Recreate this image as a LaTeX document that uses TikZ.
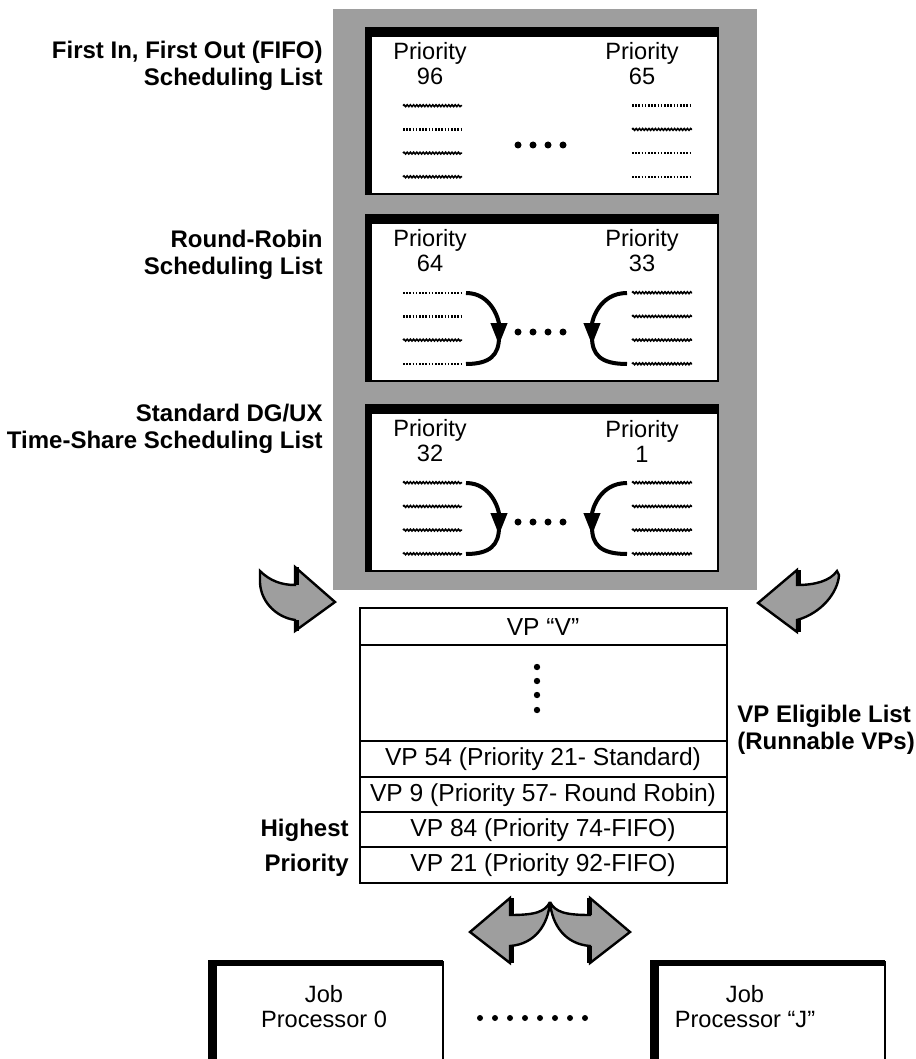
\documentclass[tikz,border=0pt]{standalone}
\usepackage{fontspec}
\setmainfont{Liberation Sans}
\usetikzlibrary{arrows.meta,decorations.pathmorphing}

\begin{document}
\begin{tikzpicture}[x=0.5pt,y=-0.5pt,
	every node/.style={inner sep=0,align=center,font=\fontsize{11.8}{12.5}\selectfont},
	lbl/.style={font=\bfseries\fontsize{12}{13.5}\selectfont},
	halftone/.style={fill=black!38},
	panel/.style={draw,fill=white,line width=1.4pt},
	rowsq/.style={line width=0.8pt,decorate,decoration={snake,amplitude=0.45pt,segment length=1.6pt}},
	rowdt/.style={line width=1.2pt,dash pattern=on 0.8pt off 0.8pt},
	turn/.style={line width=2pt,-{Triangle[length=11pt,width=8pt]}},
	bigarrow/.style={halftone,draw,line width=1.2pt,line join=miter},
	vprow/.style={font=\fontsize{12.3}{14}\selectfont}]
\clip (0,0) rectangle (915,1059);

% the three scheduling lists
\fill[halftone] (333,9) rectangle (757,590);
\foreach \b/\t/\kl/\kr/\hi/\lo in {1/28/{sq,dt,sq,sq}/{dt,sq,dt,dt}/96/65,
	2/215/{dt,dt,sq,dt}/{sq,sq,sq,sq}/64/33,
	3/405/{sq,sq,sq,sq}/{sq,sq,sq,sq}/32/1}{
	\draw[panel] (366,\t) rectangle (718,\t+166);
	\fill (365,\t) rectangle (718,\t+9);
	\fill (365,\t) rectangle (372,\t+166);
	\node (pl\b) at (430,\t+36) {Priority\\\hi};
	\node (pr\b) at (642,\t+36) {Priority\\\lo};
	\foreach \k [count=\i] in \kl
		\draw[row\k] (403,{\t+54+23.7*\i}) -- (462,{\t+54+23.7*\i});
	\foreach \k [count=\i] in \kr
		\draw[row\k] (632,{\t+54+23.7*\i}) -- (692,{\t+54+23.7*\i});
	\foreach \x in {518,533,548,563}
		\fill (\x,\t+117) circle (1.75pt);
}

% round robin turns
\foreach \t in {215,405}{
	\coordinate (lt) at (466,\t+78);
	\coordinate (lb) at (466,\t+149);
	\coordinate (rt) at (627,\t+78);
	\coordinate (rb) at (627,\t+149);
	\draw[turn] (lt) .. controls +(26,0) and +(0,-24) .. (499,\t+130);
	\draw[line width=2pt] (499,\t+122) .. controls +(0,18) and +(24,0) .. (lb);
	\draw[turn] (rt) .. controls +(-28,0) and +(0,-24) .. (592,\t+130);
	\draw[line width=2pt] (592,\t+122) .. controls +(0,18) and +(-26,0) .. (rb);
}

\node[lbl,align=right,anchor=east] (fifo) at (323,66) {First In, First Out (FIFO)\\Scheduling List};
\node[lbl,align=right,anchor=east] (rr) at (323,255) {Round-Robin\\Scheduling List};
\node[lbl,align=right,anchor=east] (ts) at (323,429) {Standard DG/UX\\Time-Share Scheduling List};

% feeding arrows
\filldraw[bigarrow] (260,571) .. controls (270,581) and (282,585) .. (295,585) -- (295,567)
	-- (335,602) -- (295,631) -- (295,620) .. controls (275,617) and (259,600) .. (260,579) -- cycle;
\draw[line width=2.5pt] (296,567) -- (296,585) (296,620) -- (296,631);
\filldraw[bigarrow] (837,571) .. controls (830,581) and (815,585) .. (797,585) -- (797,570)
	-- (758,603) -- (797,632) -- (797,620) .. controls (822,613) and (838,592) .. (839,575) -- cycle;
\draw[line width=2.5pt] (798,570) -- (798,585) (798,620) -- (798,632);

% eligible list
\draw[line width=1.2pt] (360,608) rectangle (727,883);
\foreach \y in {645,741,777,812,847}
	\draw[line width=1.2pt] (360,\y) -- (727,\y);
\node[vprow] (vpv) at (543,627) {VP “V”};
\foreach \y in {667,681,695,710}
	\fill (537,\y) circle (1.6pt);
\node[vprow] (vp54) at (543,759) {VP 54 (Priority 21- Standard)};
\node[vprow] (vp9) at (543,795) {VP 9 (Priority 57- Round Robin)};
\node[vprow] (vp84) at (543,830) {VP 84 (Priority 74-FIFO)};
\node[vprow] (vp21) at (543,865) {VP 21 (Priority 92-FIFO)};
\node[lbl,align=left,anchor=west] (elig) at (737,730) {VP Eligible List\\(Runnable VPs)};
\node[lbl,font=\bfseries\fontsize{12}{17.5}\selectfont,align=right,anchor=east] (high) at (349,848) {Highest\\Priority};

% dispatch to processors
\filldraw[bigarrow] (550,902) .. controls (545,912) and (535,915) .. (510,915) -- (510,898)
	-- (470,932) -- (510,963) -- (510,946) .. controls (535,944) and (548,925) .. (550,902);
\filldraw[bigarrow] (550,902) .. controls (555,912) and (565,915) .. (590,915) -- (590,898)
	-- (630,932) -- (590,963) -- (590,946) .. controls (565,944) and (552,925) .. (550,902);
\draw[line width=2.5pt] (511,898) -- (511,915) (511,946) -- (511,963)
	(589,898) -- (589,915) (589,946) -- (589,963);

\draw[panel] (212,962) rectangle (443,1070);
\fill (208,960) rectangle (443,966);
\fill (208,960) rectangle (217,1070);
\node (job0) at (324,1007) {Job\\Processor 0};
\draw[panel] (654,962) rectangle (885,1070);
\fill (650,960) rectangle (885,966);
\fill (650,960) rectangle (659,1070);
\node (jobj) at (745,1007) {Job\\Processor “J”};
\foreach \x in {480,495,...,585}
	\fill (\x,1018) circle (1.5pt);
\end{tikzpicture}
\end{document}
